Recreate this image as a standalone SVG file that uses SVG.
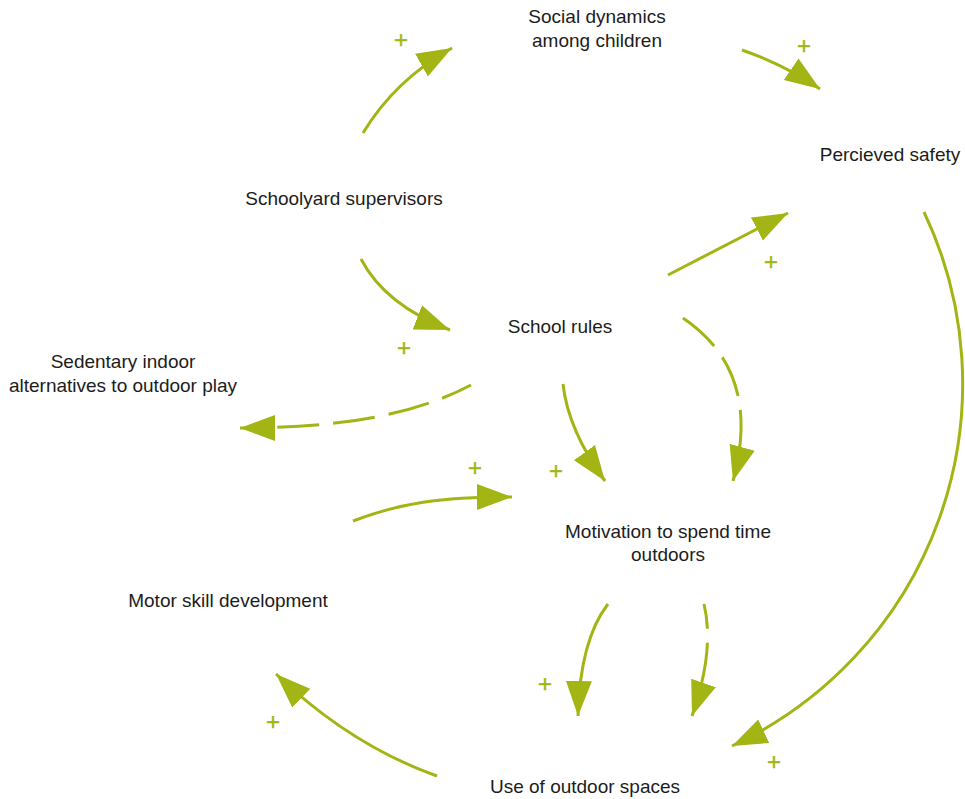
<svg xmlns="http://www.w3.org/2000/svg" width="965" height="799" viewBox="0 0 965 799">
  <style>
    .label { font-family: "Liberation Sans", Arial, sans-serif; font-size: 19px; fill: #1c1c1c; text-anchor: middle; }
    .link { fill: none; stroke: #a2b514; stroke-width: 3; marker-end: url(#head); }
    .dashed { stroke-dasharray: 42 14; }
    .sign { font-family: "Liberation Sans", Arial, sans-serif; font-size: 24px; fill: #a2b514; stroke: #a2b514; stroke-width: 0.4; text-anchor: middle; }
  </style>
  <defs>
    <marker id="head" markerUnits="userSpaceOnUse" markerWidth="40" markerHeight="30" refX="35" refY="13" orient="auto" viewBox="0 0 40 26">
      <path d="M0,0 L35,13 L0,26 Z" fill="#a2b514"/>
    </marker>
  </defs>
  <rect width="965" height="799" fill="#ffffff"/>

  <!-- causal links -->
  <g id="connectors">
    <path class="link" d="M363,133 Q395,80 452,48"/>
    <path class="link" d="M742,50 Q785,65 820,89"/>
    <path class="link" d="M668,275 L788,213"/>
    <path class="link" d="M924,212 A400,400 0 0 1 732,746"/>
    <path class="link" d="M361,259 Q385,305 450,330"/>
    <path class="link dashed" stroke-dashoffset="10" d="M471,385 C420,412 350,428 240,428"/>
    <path class="link" d="M563,384 Q568,430 605,481"/>
    <path class="link dashed" d="M683,318 C730,350 755,400 733,481"/>
    <path class="link" d="M353,521 C400,503 440,497 512,497"/>
    <path class="link" d="M608,604 Q580,640 578,716"/>
    <path class="link dashed" stroke-dashoffset="17" d="M704,604 Q715,650 692,716"/>
    <path class="link" d="M437,776 Q350,745 276,674"/>
  </g>

  <!-- polarity signs -->
  <g id="polarities">
    <text class="sign" x="401" y="48">+</text>
    <text class="sign" x="804" y="54">+</text>
    <text class="sign" x="771" y="270">+</text>
    <text class="sign" x="404" y="356">+</text>
    <text class="sign" x="475" y="476">+</text>
    <text class="sign" x="556" y="479">+</text>
    <text class="sign" x="545" y="692">+</text>
    <text class="sign" x="273" y="730">+</text>
    <text class="sign" x="774" y="770">+</text>
  </g>

  <!-- variables -->
  <g id="social-dynamics"><text class="label" x="597" y="23">Social dynamics</text><text class="label" x="597" y="47">among children</text></g>
  <g id="perceived-safety"><text class="label" x="890" y="161">Percieved safety</text></g>
  <g id="schoolyard-supervisors"><text class="label" x="344" y="205">Schoolyard supervisors</text></g>
  <g id="school-rules"><text class="label" x="560" y="333">School rules</text></g>
  <g id="sedentary-alternatives"><text class="label" x="123" y="368">Sedentary indoor</text><text class="label" x="123" y="392">alternatives to outdoor play</text></g>
  <g id="motivation"><text class="label" x="668" y="538">Motivation to spend time</text><text class="label" x="668" y="561">outdoors</text></g>
  <g id="motor-skill"><text class="label" x="228" y="607">Motor skill development</text></g>
  <g id="outdoor-use"><text class="label" x="585" y="793">Use of outdoor spaces</text></g>
</svg>
